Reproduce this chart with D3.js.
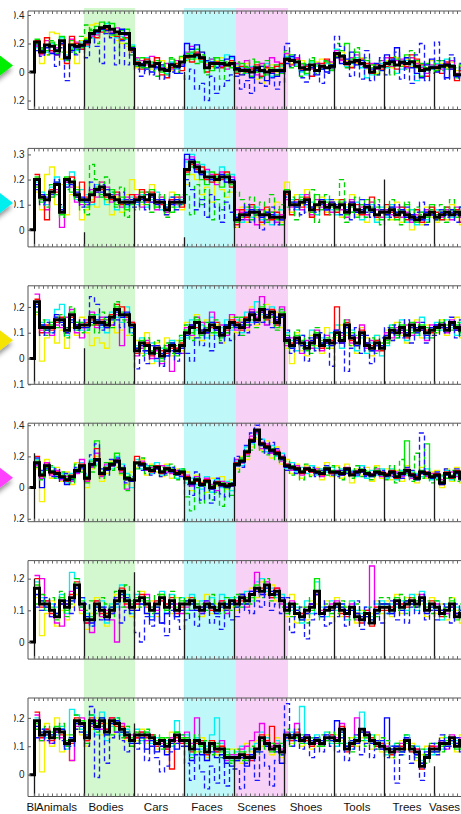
<!DOCTYPE html>
<html>
<head>
<meta charset="utf-8">
<script src="https://cdn.jsdelivr.net/npm/d3@7"></script>
<style>
  html, body { margin: 0; padding: 0; background: #fff; overflow: hidden; }
  text { font-family: "Liberation Sans", Arial, Helvetica, sans-serif; }
</style>
</head>
<body>
<svg id="chart" width="461" height="814"></svg>
<script>
// ---------- data (all response values in hundredths) ----------
const categories = ["Bl", "Animals", "Bodies", "Cars", "Faces", "Scenes", "Shoes", "Tools", "Trees", "Vases"];
// label anchor for each category, in bin units
const labelBins = [0.4, 5.4, 15.3, 25.3, 35.5, 45.4, 55.3, 65.5, 75.5, 83.0];
// highlighted categories (bin ranges)
const bandFrom = [10.9, 30.9, 41.3];
const bandTo = [21.1, 41.3, 51.7];
const bandNames = ["Bodies", "Faces", "Scenes"];

// y domains and ticks for the six panels
const panelDomains = [[-26.3, 42.8], [-6.8, 32.4], [-10, 28.2], [-21.9, 41.3], [-5.4, 25.7], [-7.7, 27]];
const panelTicks = [[-20, 0, 20, 40], [0, 10, 20, 30], [-10, 0, 10, 20], [-20, 0, 20, 40], [0, 10, 20], [0, 10, 20]];

// panel 1
const p1Mean = [0, 21,14,19,18,15,22,10,19,18,19, 21,27,29,31,32,30,28,27,27,16, 6,5,7,4,6,2,1,5,4,7, 11,11,12,10,3,6,6,6,5,6, 2,1,1,0,3,1,0,1,1,1, 9,8,7,3,2,5,1,4,3,4, 13,11,6,7,8,6,4,0,3,4, 6,7,5,7,6,7,4,1,2,3, 3,4,5,4,-2,-2,0,1,0,0];
const p1Yellow = [18,6,12,28,27,9,14,20,6,22, 24,33,34,30,28,25,22,20,18,14, 3,6,9,2,4,8,3,1,6,10, 8,12,9,14,6,3,8,10,4,7, 4,-2,6,3,-5,-8,2,5,0,3, 12,6,4,8,5,2,7,9,3,6, 10,14,8,4,6,10,2,5,-1,6, 8,3,10,5,9,4,7,2,5,8, 2,6,3,7,1,4,3,2,5,1];
const p1Cyan = [17,16,14,20,16,24,12,17,15,21, 18,24,27,29,34,26,24,25,23,19, 8,4,10,6,2,4,-1,7,2,5, 9,13,10,8,7,9,4,8,12,10, 5,3,-1,4,2,0,6,-3,2,4, 11,10,5,0,-2,7,4,2,6,5, 16,9,4,6,10,3,-4,-2,4,6, 3,9,-1,2,8,5,-6,4,1,2, 6,3,9,5,-3,2,4,1,3,2];
const p1Magenta = [18,12,22,14,17,20,11,23,21,18, 20,25,26,30,29,28,31,22,26,12, 10,8,5,11,4,3,6,2,8,5, 14,18,13,11,5,9,6,4,2,5, 6,2,8,3,-2,6,4,10,7,2, 13,9,10,5,4,2,6,3,8,7, 15,8,7,10,12,5,3,6,2,8, 10,4,8,9,3,10,6,3,-1,5, 5,2,6,8,-1,3,2,0,4,2];
const p1Green = [23,16,15,21,13,25,8,22,16,17, 23,29,32,35,30,34,26,29,30,18, 4,10,3,7,8,0,-2,9,4,11, 13,9,16,7,3,1,10,8,6,3, 0,6,3,-3,7,4,-2,3,5,-1, 10,12,4,6,-1,8,5,2,7,1, 11,15,20,9,14,6,8,3,-2,4, 7,5,9,4,12,8,3,-3,6,4, 1,8,2,3,-4,5,2,1,3,0];
const p1Red = [22,13,24,15,12,19,6,25,20,16, 19,27,24,28,30,27,25,23,24,15, 7,2,9,5,10,-2,-4,3,6,1, 10,7,14,9,0,4,7,3,5,8, -1,4,0,2,5,-3,3,0,4,6, 8,5,9,2,4,-3,1,6,9,3, 12,9,5,3,7,9,6,-1,5,2, 4,10,2,6,4,12,9,5,-3,3, 4,-1,7,2,-6,1,-2,3,2,4];
const p1Blue = [19,15,17,13,12,20,9,15,17,18, 22,26,28,30,29,27,28,30,26,17, 5,6,2,0,3,5,2,6,-1,4, 20,16,19,14,8,7,3,5,9,11, 3,-2,2,-4,1,4,-6,-1,-3,0, 6,11,7,1,5,3,-2,2,0,5, 10,6,9,14,5,8,3,2,6,1, 12,8,17,6,10,3,-1,-4,5,9, 0,5,-4,2,-3,-2,4,1,0,3];
const p1GreenDash = [20,17,12,22,19,14,9,16,13,25, 33,30,20,27,35,26,15,24,20,12, 9,3,6,1,-3,7,4,10,0,6, 8,14,6,12,-2,10,3,-5,7,4, 7,-1,4,9,0,-4,8,2,-2,5, 15,3,8,-3,6,10,-1,4,8,2, 20,12,3,9,17,4,10,5,0,8, 5,-2,11,7,2,15,8,6,3,-1, 8,1,4,10,3,6,0,2,5,3];
const p1BlueDash = [15,11,19,16,4,17,-6,14,12,16, 10,24,18,6,27,24,5,22,5,14, 2,-3,1,-2,4,-5,-3,0,3,-1, -5,2,-12,-8,-20,-3,-15,-10,-6,-2, -3,-12,-6,-15,2,-8,-10,-4,-12,-7, 20,4,12,-4,-7,-2,6,-8,-1,3, 25,18,10,-3,5,-5,15,-6,-2,10, -2,9,14,-5,3,-8,12,20,-6,4, 21,8,-5,12,-4,6,2,-3,1,0];
const p1Sep = [21, 21, 16, 0, 3, 10, 14, 7, 0];

// panel 2
const p2Mean = [0, 20,13,12,15,18,7,20,19,14,12, 12,14,16,17,14,13,12,11,11,11, 12,13,12,14,11,11,8,11,11,11, 24,27,25,23,21,21,20,21,21,19, 4,6,6,7,7,6,6,5,5,5, 15,10,10,11,12,8,10,11,9,10, 9,10,7,10,8,7,9,8,6,7, 7,8,6,7,6,5,4,5,6,7, 5,6,7,6,7,6,5,6,5,6];
const p2Yellow = [15,8,22,25,10,18,6,14,17,4, 8,12,9,19,11,6,13,7,14,20, 16,10,14,18,9,13,6,15,12,8, 18,22,20,14,17,11,19,16,13,15, 1,9,3,10,5,2,8,4,11,3, 19,7,14,10,16,5,9,13,7,12, 12,5,10,14,6,9,3,11,4,8, 9,4,11,3,8,0,6,2,9,5, 3,8,4,10,6,2,9,7,3,5];
const p2Cyan = [19,15,10,17,21,9,18,23,12,16, 14,10,18,13,10,15,8,12,9,13, 10,14,9,12,15,8,10,13,9,12, 27,30,24,26,23,19,22,25,20,22, 6,3,8,5,9,4,7,2,6,8, 13,12,8,14,9,11,6,10,12,8, 6,12,9,7,11,4,8,10,3,9, 5,10,7,9,3,8,2,7,4,9, 8,4,9,5,8,7,3,8,6,4];
const p2Magenta = [18,12,8,13,16,1,19,17,11,10, 10,16,13,19,17,11,14,9,13,12, 14,9,15,11,8,13,7,12,10,13, 28,29,26,22,24,22,18,23,19,21, 8,7,4,9,2,8,4,7,3,6, 12,9,11,8,14,6,12,9,10,7, 10,8,5,12,7,9,6,11,8,5, 8,6,9,5,7,3,6,4,8,6, 6,5,8,4,9,5,7,3,6,7];
const p2Green = [21,11,14,13,19,6,21,15,16,11, 9,15,17,14,12,16,10,13,8,10, 11,15,10,16,9,12,9,7,14,10, 22,25,27,20,18,23,21,17,22,18, 3,5,9,4,8,6,3,7,4,2, 16,11,9,13,10,7,14,8,11,9, 8,11,6,9,5,10,12,7,9,4, 6,9,4,8,10,6,3,7,5,10, 4,7,6,8,5,9,4,7,15,9];
const p2Red = [22,14,4,16,15,7,20,21,13,19, 13,11,15,16,13,12,15,10,12,14, 13,16,11,15,12,10,8,12,13,9, 23,26,24,25,20,19,22,20,23,17, 2,8,5,10,6,3,9,4,7,5, 14,6,12,9,13,5,8,12,6,11, 7,12,8,11,10,6,9,13,5,8, 10,7,5,9,4,6,8,3,7,9, 7,4,9,6,8,3,7,10,4,8];
const p2Blue = [18,14,13,15,19,8,17,18,15,13, 11,14,16,15,14,13,12,11,10,12, 11,12,14,13,10,12,9,10,12,11, 30,28,23,22,21,20,20,22,19,20, 5,6,7,8,6,5,7,6,5,4, 15,11,9,12,11,9,10,12,8,11, 9,10,8,11,7,8,10,7,6,8, 6,9,7,8,5,6,5,4,7,6, 5,7,6,8,6,7,4,6,5,7];
const p2GreenDash = [17,12,9,18,14,5,16,20,12,8, 6,26,20,13,21,15,9,17,5,12, 8,11,15,7,13,14,5,9,10,14, 14,6,18,10,16,4,12,8,15,19, 15,12,9,13,6,11,4,14,8,10, 9,13,4,12,7,16,3,11,14,6, 11,20,3,7,13,10,5,9,12,2, 4,12,8,2,11,7,9,6,3,8, 6,10,3,12,7,9,5,11,8,4];
const p2BlueDash = [16,10,11,14,20,10,19,18,13,9, 10,19,15,18,16,14,11,15,12,9, 9,13,8,11,12,9,6,13,8,10, 20,16,8,12,5,14,9,3,11,7, 1,4,10,3,8,0,6,9,2,4, 13,8,11,6,10,9,7,10,8,12, 10,6,11,4,9,12,7,5,10,6, 8,5,10,6,9,4,7,11,2,6, 4,8,5,7,3,9,6,4,8,5];
const p2Sep = [20, -1, 11, -3, 4, 15, 10, 20, 6];

// panel 3
const p3Mean = [0, 22,12,12,12,15,15,11,17,12,13, 13,16,14,14,13,16,19,17,17,13, 3,6,5,2,4,1,3,5,3,5, 10,12,14,10,11,13,12,9,12,14, 13,12,15,17,15,19,16,18,14,17, 7,5,8,6,4,6,9,5,7,6, 10,7,13,8,6,10,5,4,6,4, 8,11,10,12,9,13,11,12,10,11, 12,13,11,14,12,11,13,12,12,13];
const p3Yellow = [17,-1,8,14,6,11,4,12,9,16, 10,5,8,6,4,14,10,11,9,12, 7,2,10,-2,6,4,8,1,7,3, 14,8,17,7,15,9,13,6,10,16, 10,15,11,20,13,16,21,14,18,12, 4,-2,10,3,1,9,5,2,12,4, 8,13,9,5,2,12,8,1,9,6, 11,7,14,9,6,12,15,8,13,9, 10,15,9,13,16,8,12,15,10,14];
const p3Cyan = [20,14,15,10,19,21,9,15,14,11, 11,15,17,12,10,18,16,14,20,10, 5,8,2,6,-1,4,1,7,2,8, 8,15,11,13,8,16,9,12,15,11, 15,10,18,14,22,17,13,20,16,19, 10,7,3,9,6,11,4,8,5,10, 13,4,10,11,3,8,2,6,9,1, 5,13,8,15,7,11,9,16,8,12, 14,11,15,12,9,14,11,16,13,10];
const p3Magenta = [25,11,10,9,13,12,16,19,10,8, 15,18,12,16,15,13,17,5,15,14, 1,4,7,0,3,-2,5,-5,4,2, 12,9,16,14,10,18,11,13,9,17, 11,14,12,19,16,24,13,17,15,20, 5,8,6,2,7,4,11,3,9,7, 11,9,15,6,8,13,4,7,3,5, 10,8,12,10,13,9,14,11,7,13, 13,12,10,15,11,13,14,10,12,11];
const p3Green = [21,13,11,14,16,14,12,18,11,14, 12,17,15,13,14,17,20,18,16,12, 4,7,3,5,2,0,4,6,1,7, 11,10,15,9,12,14,10,8,13,12, 12,16,14,15,18,20,17,16,12,18, 6,4,9,7,3,5,10,6,8,5, 9,8,12,10,5,9,6,3,7,5, 7,12,9,13,10,14,10,13,9,12, 11,14,12,13,13,10,12,13,11,14];
const p3Red = [23,10,13,11,14,16,10,16,13,12, 14,15,13,15,12,17,21,20,16,14, 2,5,6,1,5,3,2,4,4,6, 9,13,12,11,10,12,14,10,11,15, 14,11,16,18,14,18,15,19,13,16, 8,6,7,5,4,7,8,4,6,7, 20,6,14,7,5,11,6,5,7,3, 9,10,11,11,8,12,12,11,11,10, 12,12,12,14,11,12,13,12,13,12];
const p3Blue = [20,13,11,12,17,14,10,15,13,12, 12,14,15,13,12,15,18,16,18,12, 4,5,3,3,5,2,1,6,2,4, 9,13,14,11,10,14,11,10,13,13, 12,13,14,18,14,18,17,17,15,16, 8,4,7,5,5,7,8,6,6,5, 11,6,12,9,5,9,6,3,5,5, 9,10,11,11,10,12,12,11,9,12, 13,12,12,13,11,12,12,13,11,14];
const p3GreenDash = [18,15,9,13,12,17,8,20,14,10, 11,13,10,18,15,12,22,15,14,9, 6,1,8,3,7,-1,6,2,5,9, 13,7,16,8,14,10,15,7,10,13, 16,9,13,17,12,21,14,16,11,19, 9,3,11,4,8,2,12,7,4,8, 7,11,15,5,9,7,3,8,2,6, 6,13,8,14,11,10,13,9,12,8, 10,15,13,11,14,9,15,11,14,12];
const p3BlueDash = [21,9,14,10,16,13,12,14,11,15, 14,24,21,11,16,13,15,12,14,10, -4,3,-2,5,0,-3,1,3,-1,2, 2,-1,8,5,12,3,9,6,11,7, 9,14,10,13,17,14,19,12,16,13, 11,2,6,9,-1,8,3,10,5,-3, 6,10,-5,4,12,2,9,-2,5,8, 12,7,13,8,15,6,10,14,6,9, 9,14,10,16,8,15,10,14,9,12];
const p3Sep = [22, 4, 13, 5, 10, 15, 6, 6, 10];

// panel 4
const p4Mean = [0, 16,8,14,10,9,7,5,7,11,14, 6,15,18,9,12,15,17,12,6,5, 16,15,12,11,13,10,12,11,9,10, 6,3,5,2,4,0,3,2,1,2, 15,17,23,30,37,28,26,24,22,19, 14,13,12,10,12,11,10,9,12,10, 10,9,12,8,10,11,9,8,10,9, 8,10,7,9,11,8,6,10,9,7, 8,3,9,7,10,6,8,9,12,10];
const p4Yellow = [12,-9,18,6,13,4,10,2,16,11, 0,12,20,4,9,17,13,8,2,10, 13,18,8,15,10,7,15,6,12,8, 10,-2,8,4,-3,6,1,7,-1,5, 12,20,18,26,31,24,30,19,26,15, 18,9,15,6,14,8,13,5,16,7, 14,6,15,3,12,8,13,4,14,6, 12,5,11,4,14,9,3,13,6,10, 11,0,12,4,13,3,10,6,15,8];
const p4Cyan = [18,10,12,13,6,9,3,9,13,16, 8,18,15,12,14,12,20,15,9,0, 18,12,14,9,16,8,14,13,6,12, 3,6,2,-1,7,-3,5,0,4,-2, 17,14,26,28,34,31,23,27,20,22, 12,16,10,13,9,14,8,12,10,13, 8,12,10,11,7,14,6,11,8,12, 6,12,5,11,8,10,9,7,12,5, 6,7,11,5,8,9,6,12,9,13];
const p4Magenta = [14,6,16,8,11,5,7,4,9,18, 4,13,22,7,15,14,18,10,-1,4, 15,17,11,13,12,14,10,9,11,8, 8,1,7,3,6,2,-2,4,3,1, 18,16,21,33,35,25,28,22,24,17, 15,11,14,8,13,10,12,7,11,9, 11,8,13,9,11,10,8,9,12,7, 9,8,10,7,12,6,8,9,7,9, 9,5,8,10,7,8,10,7,11,12];
const p4Green = [17,9,13,11,8,8,6,6,12,13, 7,17,30,10,11,16,22,13,7,6, 15,14,13,12,14,11,11,12,8,11, 5,4,6,1,3,1,2,3,0,3, 14,18,24,29,36,27,25,25,21,18, 13,14,11,11,12,12,9,10,13,11, 9,10,11,8,9,12,10,7,11,10, 7,9,8,10,30,7,5,11,28,8, 7,4,8,8,9,7,9,8,14,30];
const p4Red = [20,7,15,9,10,6,4,8,10,15, 5,14,25,8,13,14,16,11,5,4, 20,16,12,10,14,9,13,11,10,9, 7,2,4,3,5,-1,4,1,2,1, 16,16,22,31,36,29,27,23,23,20, 15,12,13,9,11,10,11,8,11,9, 10,8,12,9,10,10,9,8,9,10, 9,11,6,9,10,9,7,9,10,6, 9,2,10,6,11,5,7,10,11,9];
const p4Blue = [15,0,12,10,7,6,2,5,10,13, 6,14,17,9,11,14,16,12,5,4, 16,14,12,11,12,10,12,10,8,10, 6,2,5,1,4,-1,3,1,0,1, 14,16,23,29,36,27,25,23,21,18, 13,12,11,10,12,11,9,9,11,10, 9,8,11,8,9,10,8,7,9,8, 7,9,7,8,10,7,5,9,8,6, 7,2,8,7,9,5,7,8,11,9];
const p4GreenDash = [13,5,11,14,6,10,8,3,15,10, 3,10,14,6,16,11,13,9,-2,8, 12,19,9,14,10,13,8,15,5,12, -6,-15,0,-10,4,-8,-3,-12,2,-5, 10,19,20,24,32,23,21,26,18,16, 17,8,13,5,15,7,11,12,8,14, 13,5,10,6,14,7,11,5,13,8, 5,14,3,18,9,4,22,6,12,3, 5,8,6,11,4,10,5,12,9,15];
const p4BlueDash = [19,11,15,7,12,4,9,6,13,12, 9,21,28,12,8,18,19,14,3,7, 14,11,15,8,12,7,9,13,11,7, 2,-5,10,-8,0,-10,6,-4,-6,3, 20,13,27,35,40,31,22,29,25,21, 11,15,9,12,10,13,7,11,14,8, 7,11,9,10,8,13,7,10,8,11, 10,7,9,6,13,11,8,35,10,7, 10,6,12,8,12,8,11,6,13,11];
const p4Sep = [22, 6, 16, 10, 2, 12, 10, 8, 8];

// panel 5
const p5Mean = [0, 17,12,12,10,8,13,11,14,18,12, 7,7,12,10,8,10,13,16,13,11, 13,14,12,10,12,14,11,13,10,12, 12,13,11,10,12,11,10,12,11,13, 12,14,13,15,17,16,18,15,16,13, 10,12,9,8,10,11,16,9,10,11, 12,10,9,11,8,7,9,6,10,11, 11,10,13,11,12,13,12,14,10,12, 11,9,10,12,8,9,11,12,13,12];
const p5Yellow = [14,2,9,13,5,10,7,11,15,9, 4,9,14,8,5,12,15,13,11,8, 11,16,9,13,8,15,12,9,14,10, 14,10,13,8,15,9,12,10,14,11, 10,15,11,17,14,19,15,18,13,15, 8,15,6,11,7,13,12,10,13,8, 14,8,11,13,6,10,8,9,13,9, 13,8,15,9,14,11,15,12,8,14, 9,12,7,14,10,6,13,9,15,10];
const p5Cyan = [19,14,10,12,11,15,9,22,20,14, 9,5,11,13,6,12,11,18,15,9, 15,12,14,8,13,16,9,15,8,14, 10,15,12,13,10,14,9,15,12,14, 14,12,16,13,19,20,16,17,14,15, 12,10,11,6,13,9,19,11,8,13, 10,12,7,13,10,9,11,8,12,13, 9,12,11,13,10,15,10,16,12,10, 13,7,12,10,11,8,13,10,11,14];
const p5Magenta = [21,20,13,8,6,5,12,16,17,10, 6,3,13,8,10,7,0,14,11,12, 12,14,15,11,10,13,12,11,12,9, 11,13,12,9,13,10,11,13,9,12, 13,15,11,16,22,15,19,14,17,12, 11,13,10,9,11,12,15,10,11,12, 13,10,9,12,7,8,10,24,11,12, 12,11,13,12,13,12,13,15,11,12, 12,10,9,11,9,10,12,13,14,11];
const p5Green = [18,13,11,11,9,14,10,13,17,13, 8,8,11,11,9,11,12,15,14,12, 14,13,13,11,11,15,10,12,11,13, 13,12,12,11,11,12,11,11,12,12, 11,15,12,14,18,17,17,16,15,14, 9,11,10,7,11,10,20,8,11,10, 11,11,10,10,9,8,8,7,9,12, 12,9,14,10,13,12,13,13,11,11, 10,10,11,13,7,10,10,11,12,13];
const p5Red = [20,11,13,9,8,12,12,15,19,12, 6,7,13,9,9,9,14,17,12,10, 12,15,11,10,13,13,12,14,9,11, 12,14,10,11,12,10,10,13,10,13, 13,13,14,15,16,17,18,14,17,13, 10,12,9,9,9,12,15,9,10,10, 12,9,8,11,9,6,10,5,11,10, 10,11,12,12,11,14,11,14,10,13, 11,8,10,11,9,8,12,12,13,12];
const p5Blue = [15,13,11,10,9,12,12,13,17,11, 8,6,11,11,7,11,12,15,14,10, 10,12,9,7,11,6,9,12,8,10, 13,12,10,11,11,12,9,11,12,12, 11,15,12,16,16,15,17,16,15,14, 11,11,10,7,9,12,15,8,11,10, 11,11,10,10,9,8,8,7,9,12, 12,9,12,10,13,12,11,13,9,11, 10,10,11,11,9,10,10,11,12,13];
const p5GreenDash = [12,15,10,14,7,16,8,12,20,11, 10,13,9,14,12,8,16,11,18,13, 16,11,14,9,15,12,10,16,11,14, 9,14,8,12,10,15,12,9,14,10, 15,11,14,12,17,14,20,13,15,11, 12,8,12,10,6,14,13,7,12,9, 9,13,11,7,12,10,6,11,8,14, 14,11,10,15,9,14,11,12,13,9, 13,11,8,14,10,12,9,10,8,14];
const p5BlueDash = [11,10,14,8,12,11,13,9,16,14, 12,5,10,7,11,9,14,6,10,9, 3,0,8,5,9,6,2,10,7,4, 7,10,5,9,13,6,8,4,10,7, 8,12,10,9,13,11,15,10,12,9, 14,3,8,11,1,7,9,13,5,6, 8,12,5,9,13,4,11,7,13,6, 9,13,7,12,6,11,9,15,7,10, 7,12,9,6,12,7,13,8,10,9];
const p5Sep = [20, 7, 22, 12, 11, 13, 12, 11, 10];

// panel 6
const p6Mean = [0, 19,14,15,13,16,15,11,12,19,18, 13,19,17,19,15,19,18,16,14,12, 14,14,14,13,11,12,10,12,14,12, 12,9,12,11,8,11,9,9,6,6, 6,7,6,6,9,13,11,9,10,8, 14,13,14,12,13,11,12,11,13,13, 12,16,9,11,12,16,14,12,11,10, 9,8,9,9,12,9,8,3,6,9, 9,11,11,13,10,12,11,13,9,12];
const p6Yellow = [17,1,18,10,20,8,14,5,16,14, 10,16,20,14,18,13,17,15,12,10, 12,16,11,14,9,13,8,15,11,13, 10,12,8,13,6,12,7,10,8,9, 9,4,11,8,12,10,14,7,13,6, 15,11,16,10,14,9,13,10,15,12, 14,12,11,13,10,13,11,9,14,8, 11,6,8,12,9,11,5,7,10,8, 7,13,10,12,8,14,9,11,10,13];
const p6Cyan = [20,16,13,15,14,17,9,23,21,16, 15,21,14,22,12,17,20,14,16,11, 16,12,15,11,13,10,12,10,19,14, 14,7,13,9,10,14,20,11,8,5, 8,10,7,9,11,15,13,11,12,10, 12,15,13,24,11,13,14,12,15,11, 10,14,11,9,13,22,12,14,10,12, 7,10,11,8,14,8,10,5,9,7, 11,9,13,11,12,10,13,11,10,14];
const p6Magenta = [21,12,16,11,15,13,12,5,17,20, 12,17,19,16,16,20,15,18,13,14, 13,15,12,14,12,11,9,13,12,11, 15,11,20,12,9,10,8,12,5,7, 7,9,10,12,15,18,12,10,11,9, 15,12,18,11,14,12,11,10,12,14, 13,18,10,12,20,15,13,11,12,9, 10,9,8,11,13,10,9,4,7,10, 10,12,9,14,11,13,10,12,8,11];
const p6Green = [18,15,14,14,17,16,12,13,18,19, 14,18,18,20,14,18,19,15,15,13, 15,13,15,12,12,13,11,11,15,13, 11,10,11,10,9,10,10,8,7,5, 5,8,5,7,8,12,10,8,9,7, 13,14,13,11,12,12,13,10,12,12, 11,15,10,12,11,15,13,11,12,11, 8,9,10,8,11,10,7,4,7,8, 8,10,12,12,9,11,12,14,20,11];
const p6Red = [22,13,16,12,15,14,10,11,20,17, 12,20,16,18,16,20,17,17,13,12, 13,15,13,14,10,12,9,2,13,11, 12,8,11,12,7,12,8,10,6,6, 6,6,7,5,9,14,12,17,10,8, 14,12,15,13,12,10,12,11,13,14, 12,17,8,10,11,16,15,13,10,11, 9,7,9,10,12,8,9,2,6,10, 9,12,11,13,10,12,11,12,10,12];
const p6Blue = [17,15,14,14,15,16,10,13,18,17, 14,18,16,20,14,18,19,15,15,11, 11,13,9,12,8,10,7,11,9,12, 10,5,9,7,5,8,6,7,4,3, 5,6,3,7,8,13,10,9,8,4, 13,14,12,13,14,12,13,12,14,12, 19,15,10,12,11,15,15,11,12,9, 20,9,10,8,13,10,7,4,7,8, 8,12,10,12,11,11,12,12,10,11];
const p6GreenDash = [16,12,17,15,13,18,10,14,21,15, 11,21,15,17,19,14,20,13,17,10, 15,11,16,13,14,9,13,10,15,14, 13,6,14,8,12,7,11,6,9,4, 9,5,8,10,7,12,9,11,8,11, 16,10,12,14,11,13,10,14,11,15, 14,11,13,8,14,12,10,14,9,13, 12,6,11,7,14,10,6,9,4,11, 11,8,14,10,13,9,14,10,12,9];
const p6BlueDash = [13,16,12,11,14,12,9,10,16,15, 10,24,-1,17,4,13,15,12,8,11, 9,12,5,10,6,1,3,8,11,10, 4,-2,7,1,-5,3,-3,6,-4,2, 2,-5,4,6,-2,8,3,-4,5,7, 25,10,16,9,13,6,12,8,14,10, 8,13,5,9,14,7,11,6,9,12, 6,10,-3,7,12,4,9,-2,8,11, 7,14,9,10,13,8,12,10,11,9];
const p6Sep = [19, 13, 18, 12, 6, 14, 12, 9, 3];

// ---------- styles ----------
const W = 461, H = 814;
const bandColors = ["#d3f8cf", "#bff8f8", "#f8d2f6"];
const lineStyles = [
  { color: "#f2f200" },
  { color: "#00f0f0" },
  { color: "#f000f0" },
  { color: "#00e600" },
  { color: "#ff0000" },
  { color: "#0000ff" },
  { color: "#00d400", dash: "5,3" },
  { color: "#1a1aff", dash: "5,3" }
];
const arrowColors = ["#00ee00", "#00eeee", "#f4e400", "#ff40ff", null, null];

const panels = [
  { mean: p1Mean, series: [p1Yellow, p1Cyan, p1Magenta, p1Green, p1Red, p1Blue, p1GreenDash, p1BlueDash], sep: p1Sep },
  { mean: p2Mean, series: [p2Yellow, p2Cyan, p2Magenta, p2Green, p2Red, p2Blue, p2GreenDash, p2BlueDash], sep: p2Sep },
  { mean: p3Mean, series: [p3Yellow, p3Cyan, p3Magenta, p3Green, p3Red, p3Blue, p3GreenDash, p3BlueDash], sep: p3Sep },
  { mean: p4Mean, series: [p4Yellow, p4Cyan, p4Magenta, p4Green, p4Red, p4Blue, p4GreenDash, p4BlueDash], sep: p4Sep },
  { mean: p5Mean, series: [p5Yellow, p5Cyan, p5Magenta, p5Green, p5Red, p5Blue, p5GreenDash, p5BlueDash], sep: p5Sep },
  { mean: p6Mean, series: [p6Yellow, p6Cyan, p6Magenta, p6Green, p6Red, p6Blue, p6GreenDash, p6BlueDash], sep: p6Sep }
];

// ---------- layout ----------
const panelTop0 = 11, panelStep = 137.4, panelH = 98.5;
const boxLeft = 28;
const x = d3.scaleLinear().domain([-0.3, 91]).range([boxLeft, 484.5]);
const binsPerCategory = 10;
const categoryStarts = d3.range(1, 91, binsPerCategory);
const topTickStep = 0.9;

const svg = d3.select("#chart");
const defs = svg.append("defs");

// colour bands behind the highlighted categories
svg.append("g").selectAll("rect")
  .data(bandNames)
  .join("rect")
  .attr("x", (d, i) => x(bandFrom[i]))
  .attr("width", (d, i) => x(bandTo[i]) - x(bandFrom[i]))
  .attr("y", 8)
  .attr("height", 789)
  .attr("fill", (d, i) => bandColors[i]);

// drop shadow for the pointer arrows
const shadow = defs.append("filter").attr("id", "arrowShadow")
  .attr("x", "-60%").attr("y", "-60%").attr("width", "220%").attr("height", "220%");
shadow.append("feDropShadow").attr("dx", -1).attr("dy", 4).attr("stdDeviation", 2.4)
  .attr("flood-color", "#000").attr("flood-opacity", 0.45);

// y tick labels are cut at the left margin (clip is in page coordinates)
defs.append("clipPath").attr("id", "labelClip")
  .append("rect").attr("x", 14).attr("y", 0).attr("width", W).attr("height", H);

const stair = (y) => d3.line().curve(d3.curveStepAfter).x(d => x(d[0])).y(d => y(d[1]));

panels.forEach((p, i) => {
  const top = panelTop0 + i * panelStep;
  const bottom = top + panelH;
  const y = d3.scaleLinear().domain(panelDomains[i]).range([bottom, top]);
  const line = stair(y);

  const clipId = "plotClip" + i;
  defs.append("clipPath").attr("id", clipId)
    .append("rect").attr("x", boxLeft).attr("y", top).attr("width", W).attr("height", panelH);

  const g = svg.append("g").attr("clip-path", `url(#${clipId})`);

  // individual runs
  p.series.forEach((vals, k) => {
    const pts = vals.map((v, j) => [j + 1, v]);
    pts.push([vals.length + 1, vals[vals.length - 1]]);
    const st = lineStyles[k];
    g.append("path")
      .attr("d", line(pts))
      .attr("fill", "none")
      .attr("stroke", st.color)
      .attr("stroke-width", 1.35)
      .attr("stroke-dasharray", st.dash || null);
  });

  // category separators
  g.selectAll("line.sep")
    .data(p.sep)
    .join("line")
    .attr("class", "sep")
    .attr("x1", (d, j) => x(categoryStarts[j]))
    .attr("x2", (d, j) => x(categoryStarts[j]))
    .attr("y1", d => y(d))
    .attr("y2", bottom)
    .attr("stroke", "#1a1a1a")
    .attr("stroke-width", 1.3);

  // average
  const mpts = p.mean.map((v, j) => [j, v]);
  mpts.push([p.mean.length, p.mean[p.mean.length - 1]]);
  g.append("path")
    .attr("d", line(mpts))
    .attr("fill", "none")
    .attr("stroke", "#000")
    .attr("stroke-width", 3)
    .attr("stroke-linejoin", "miter");

  // frame
  svg.append("path")
    .attr("d", `M${W + 2},${top}H${boxLeft}V${bottom}H${W + 2}`)
    .attr("fill", "none")
    .attr("stroke", "#555")
    .attr("stroke-width", 1);

  // minor ticks on top and bottom edges
  const tickBins = d3.range(1, 91, topTickStep);
  const tg = svg.append("g").attr("stroke", "#666").attr("stroke-width", 1);
  tg.selectAll("line.tt").data(tickBins).join("line").attr("class", "tt")
    .attr("x1", d => x(d)).attr("x2", d => x(d)).attr("y1", top).attr("y2", top + 3);
  tg.selectAll("line.tb").data(tickBins).join("line").attr("class", "tb")
    .attr("x1", d => x(d)).attr("x2", d => x(d)).attr("y1", bottom).attr("y2", bottom - 3);

  // y axis (wrapped so the clip is applied in page coordinates)
  const axWrap = svg.append("g").attr("clip-path", "url(#labelClip)");
  const ax = axWrap.append("g")
    .attr("transform", `translate(${boxLeft},0)`)
    .call(d3.axisLeft(y).tickValues(panelTicks[i]).tickSizeInner(-3).tickSizeOuter(0).tickPadding(3.5)
      .tickFormat(d => d === 0 ? "0" : String(d / 100)));
  ax.select(".domain").remove();
  ax.selectAll(".tick line").attr("stroke", "#555");
  ax.selectAll(".tick text")
    .attr("fill", "#222")
    .style("font-size", "10px")
    .style("font-family", "'Liberation Sans', Arial, sans-serif");

  // pointer arrow
  if (arrowColors[i]) {
    const cy = top + 54.5;
    svg.append("path")
      .attr("d", `M-4,${cy - 13}L13,${cy}L-4,${cy + 13}Z`)
      .attr("fill", arrowColors[i])
      .attr("filter", "url(#arrowShadow)");
  }
});

// category labels under the last panel
svg.append("g").selectAll("text")
  .data(categories)
  .join("text")
  .attr("x", (d, i) => x(labelBins[i]))
  .attr("y", 811)
  .attr("text-anchor", "middle")
  .attr("fill", "#111")
  .style("font-size", "11.5px")
  .text(d => d);
</script>
</body>
</html>
